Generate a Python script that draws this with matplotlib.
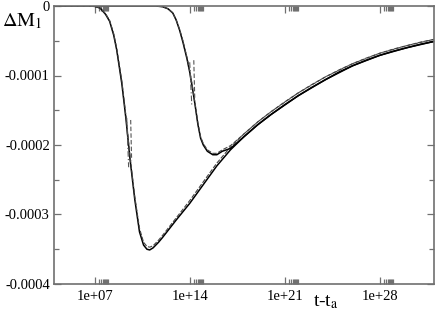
import numpy as np
import matplotlib
matplotlib.use('agg')
import matplotlib.pyplot as plt
from matplotlib.ticker import FixedLocator, FuncFormatter

plt.rcParams['font.family'] = ['Liberation Serif', 'DejaVu Serif']
plt.rcParams['mathtext.fontset'] = 'stix'
plt.rcParams['axes.unicode_minus'] = False

# curve A (early onset): log10(t - t_a) and Delta M_1 in units of 1e-4
logt_a = [4.0, 6.5, 7.0, 7.4, 7.8, 8.1, 8.4, 8.62, 9.0, 9.3, 9.6, 9.95, 10.3, 10.6,
          10.85, 11.05, 11.3, 11.7, 12.0, 13.0, 14.0, 15.0, 16.0, 17.0, 18.0, 19.0,
          20.0, 21.0, 22.0, 23.0, 24.0, 25.0, 26.0, 27.0, 28.0, 29.0, 30.0, 31.0, 32.0]
dm_a = [0.0, 0.0, -0.005, -0.03, -0.12, -0.22, -0.42, -0.63, -1.12, -1.62, -2.2, -2.78,
        -3.25, -3.44, -3.5, -3.51, -3.48, -3.4, -3.33, -3.08, -2.84, -2.57, -2.3, -2.07,
        -1.88, -1.71, -1.56, -1.42, -1.29, -1.17, -1.06, -0.95, -0.86, -0.78, -0.71,
        -0.65, -0.6, -0.55, -0.51]
# dashed companion of A
dm_a2 = [0.0, 0.0, -0.005, -0.03, -0.11, -0.21, -0.4, -0.61, -1.08, -1.58, -2.16, -2.74,
         -3.2, -3.4, -3.46, -3.47, -3.45, -3.37, -3.3, -3.05, -2.8, -2.53, -2.26, -2.03,
         -1.84, -1.67, -1.52, -1.38, -1.25, -1.13, -1.02, -0.92, -0.83, -0.75, -0.68,
         -0.62, -0.57, -0.52, -0.48]

# curve B (late onset)
logt_b = [4.0, 11.5, 12.0, 12.4, 12.75, 13.0, 13.26, 13.5, 13.8, 14.0, 14.2, 14.4, 14.6,
          14.8, 15.0, 15.3, 15.7, 16.0, 16.4, 16.7, 17.0, 17.3, 18.0, 19.0, 20.0, 22.0,
          24.0, 26.0, 28.0, 30.0, 32.0]
dm_b = [0.0, 0.0, -0.01, -0.04, -0.1, -0.2, -0.35, -0.52, -0.76, -0.95, -1.18, -1.43,
        -1.7, -1.9, -2.0, -2.09, -2.14, -2.14, -2.09, -2.07, -2.05, -2.0, -1.88, -1.71,
        -1.56, -1.29, -1.06, -0.86, -0.71, -0.6, -0.51]
dm_b2 = [0.0, 0.0, -0.01, -0.04, -0.1, -0.2, -0.34, -0.5, -0.74, -0.93, -1.16, -1.41,
         -1.68, -1.88, -1.98, -2.07, -2.12, -2.12, -2.07, -2.04, -2.01, -1.96, -1.84,
         -1.67, -1.52, -1.25, -1.02, -0.83, -0.68, -0.57, -0.48]

# short near-vertical approximation segments
seg_logt = [[9.36, 9.5], [9.65, 9.72], [14.0, 14.15], [14.3, 14.37]]
seg_dm = [[-1.61, -2.32], [-1.64, -2.22], [-0.81, -1.42], [-0.78, -1.32]]
seg_style = [(0, (5, 2, 1, 2)), (0, (4, 2)), (0, (5, 2, 1, 2)), (0, (4, 2))]

xticks = [1e7, 1e14, 1e21, 1e28]
yticks = [0.0, -0.0001, -0.0002, -0.0003, -0.0004]
ylabels = ['0', '-0.0001', '-0.0002', '-0.0003', '-0.0004']

fig = plt.figure(figsize=(4.36, 3.11), dpi=100)
ax = fig.add_axes([54 / 436, 1 - 284 / 311, 380 / 436, 278 / 311])

ax.plot(10.0 ** np.array(logt_a), np.array(dm_a) * 1e-4, color='black', lw=1.1)
ax.plot(10.0 ** np.array(logt_a), np.array(dm_a2) * 1e-4, color='#444444', lw=0.8,
        linestyle=(0, (4, 1.5)))
ax.plot(10.0 ** np.array(logt_b), np.array(dm_b) * 1e-4, color='black', lw=1.1)
ax.plot(10.0 ** np.array(logt_b), np.array(dm_b2) * 1e-4, color='#444444', lw=0.8,
        linestyle=(0, (4, 1.5)))
for lx, dm, ls in zip(seg_logt, seg_dm, seg_style):
    ax.plot(10.0 ** np.array(lx), np.array(dm) * 1e-4, color='#555555', lw=0.8, linestyle=ls)

ax.set_xscale('log')
ax.set_xlim(1e4, 1e32)
ax.set_ylim(-0.0004, 0.0)

minors = [m * t for t in xticks for m in range(2, 10)]
ax.xaxis.set_major_locator(FixedLocator(xticks))
ax.xaxis.set_minor_locator(FixedLocator(minors))
ax.xaxis.set_major_formatter(FuncFormatter(lambda v, p: '%.0e' % v))
ax.xaxis.set_minor_formatter(FuncFormatter(lambda v, p: ''))
ax.yaxis.set_major_locator(FixedLocator(yticks))
ax.yaxis.set_minor_locator(FixedLocator([-0.00005, -0.00015, -0.00025, -0.00035]))
ax.set_yticklabels(ylabels)

ax.tick_params(which='both', direction='in', top=True, right=True, color='#707070',
               labelsize=10.5, width=0.9)
ax.tick_params(which='major', length=5)
ax.tick_params(which='minor', length=3.5)
ax.tick_params(axis='x', pad=4)
ax.tick_params(axis='y', pad=3)
for s in ax.spines.values():
    s.set_color('#707070')
    s.set_linewidth(1.2)

fig.text(2 / 436, 1 - 21 / 311, r'$\Delta\mathrm{M}_1$', fontsize=14.5, va='center', ha='left')
fig.text(326 / 436, 1 - 302 / 311, r't-t$_\mathrm{a}$', fontsize=14, va='center', ha='center')

fig.savefig('out.png', dpi=100)
plt.close(fig)
